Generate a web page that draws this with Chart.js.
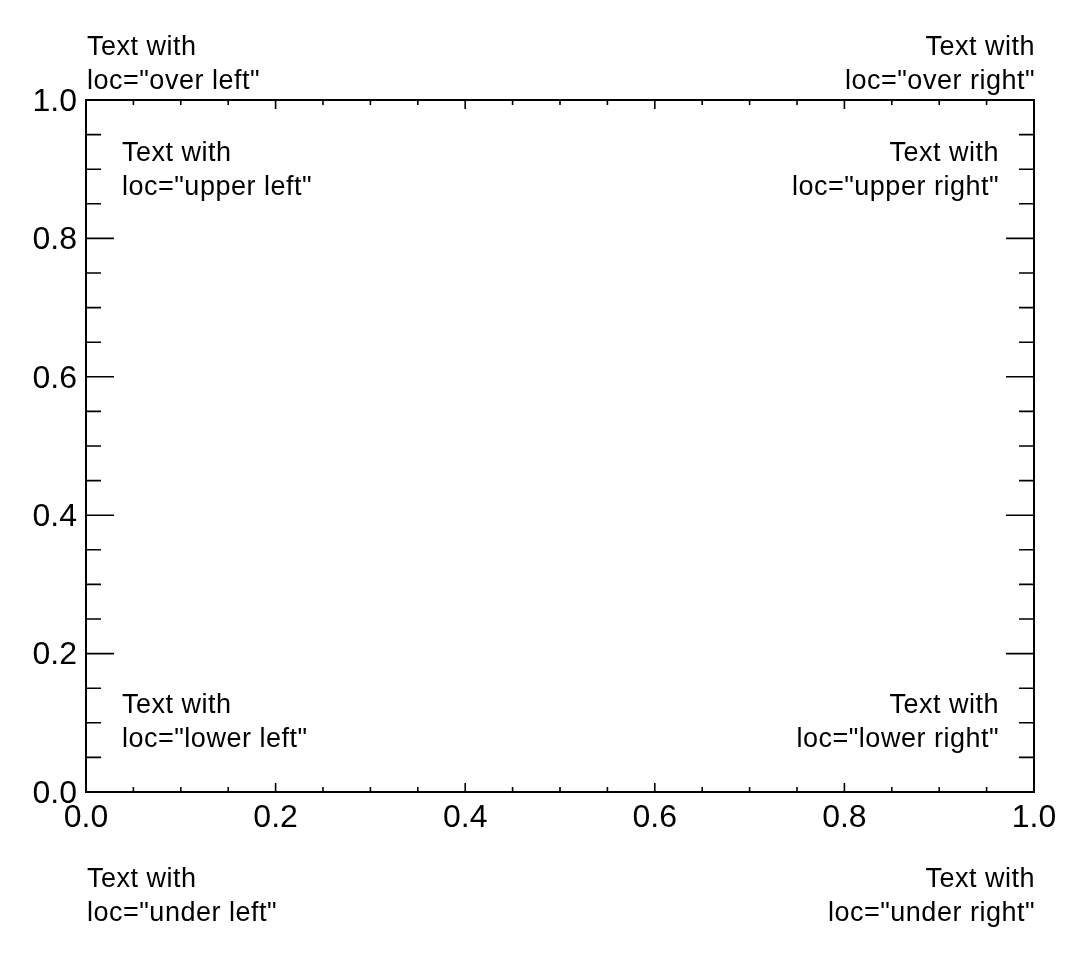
<!DOCTYPE html>
<html lang="en">
<head>
    <meta charset="UTF-8">
    <title>Text locations</title>
    <script src="https://cdn.jsdelivr.net/npm/chart.js"></script>
    <style>
        html, body { margin: 0; padding: 0; background: #fff; }
        #wrap { width: 1088px; height: 962px; position: relative; }
    </style>
</head>
<body>
    <div id="wrap"><canvas id="locChart"></canvas></div>

    <script>
        // axis range and tick positions (both axes the same)
        const axisMin = 0.0;
        const axisMax = 1.0;
        const majorTicks = [0.0, 0.2, 0.4, 0.6, 0.8, 1.0];
        const minorTicks = [0.05, 0.1, 0.15, 0.25, 0.3, 0.35, 0.45, 0.5, 0.55,
                            0.65, 0.7, 0.75, 0.85, 0.9, 0.95];

        // text boxes drawn around / inside the axes
        const locNames = ["over left", "over right", "upper left", "upper right",
                          "lower left", "lower right", "under left", "under right"];
        const firstLine = "Text with";

        const FONT = '"Liberation Sans", Arial, Helvetica, sans-serif';

        const frameAndTicks = {
            id: "frameAndTicks",
            afterDraw(chart) {
                const ctx = chart.ctx;
                const a = chart.chartArea;
                const xs = chart.scales.x, ys = chart.scales.y;
                ctx.save();
                ctx.strokeStyle = "#000";
                ctx.lineWidth = 1.6;
                ctx.beginPath();
                const tick = (vals, yLen, xLen) => {
                    vals.forEach(v => {
                        const px = xs.getPixelForValue(v);
                        ctx.moveTo(px, a.bottom); ctx.lineTo(px, a.bottom - xLen);
                        ctx.moveTo(px, a.top); ctx.lineTo(px, a.top + xLen);
                        const py = ys.getPixelForValue(v);
                        ctx.moveTo(a.left, py); ctx.lineTo(a.left + yLen, py);
                        ctx.moveTo(a.right, py); ctx.lineTo(a.right - yLen, py);
                    });
                };
                tick(majorTicks, 28, 9);
                tick(minorTicks, 15, 5);
                ctx.stroke();

                ctx.lineWidth = 2;
                ctx.strokeRect(a.left, a.top, a.right - a.left, a.bottom - a.top);

                // text annotations (reference font runs a little wider)
                ctx.fillStyle = "#000";
                ctx.font = "27px " + FONT;
                ctx.letterSpacing = "0.5px";
                ctx.textBaseline = "alphabetic";
                const inset = 36;
                locNames.forEach(name => {
                    const right = name.endsWith("right");
                    let x, y;
                    if (name.startsWith("over")) {
                        x = right ? a.right + 1 : a.left + 1; y = a.top - 45;
                    } else if (name.startsWith("upper")) {
                        x = right ? a.right - inset + 1 : a.left + inset; y = a.top + 61;
                    } else if (name.startsWith("lower")) {
                        x = right ? a.right - inset + 1 : a.left + inset; y = a.bottom - 79;
                    } else {
                        x = right ? a.right + 1 : a.left + 1; y = a.bottom + 95;
                    }
                    ctx.textAlign = right ? "right" : "left";
                    ctx.fillText(firstLine, x, y);
                    ctx.fillText('loc="' + name + '"', x, y + 34);
                });
                ctx.restore();
            }
        };

        const tickOpts = {
            color: "#000",
            font: { family: FONT, size: 32 },
            callback: v => Number(v).toFixed(1),
            autoSkip: false,
            maxRotation: 0
        };

        new Chart(document.getElementById("locChart"), {
            type: "scatter",
            data: { datasets: [{ data: [] }] },
            options: {
                responsive: true,
                maintainAspectRatio: false,
                animation: false,
                events: [],
                layout: { padding: { left: 0, right: 54, top: 100, bottom: 0 } },
                plugins: { legend: { display: false }, tooltip: { enabled: false } },
                scales: {
                    x: {
                        type: "linear",
                        min: axisMin, max: axisMax,
                        grid: { display: false, drawTicks: false },
                        border: { display: false },
                        ticks: Object.assign({ padding: 7 }, tickOpts),
                        afterBuildTicks: s => { s.ticks = majorTicks.map(v => ({ value: v })); },
                        afterFit: s => { s.height = 170; }
                    },
                    y: {
                        type: "linear",
                        min: axisMin, max: axisMax,
                        grid: { display: false, drawTicks: false },
                        border: { display: false },
                        ticks: Object.assign({ padding: 9, labelOffset: 2 }, tickOpts),
                        afterBuildTicks: s => { s.ticks = majorTicks.map(v => ({ value: v })); },
                        afterFit: s => { s.width = 86; }
                    }
                }
            },
            plugins: [frameAndTicks]
        });
    </script>
</body>
</html>
